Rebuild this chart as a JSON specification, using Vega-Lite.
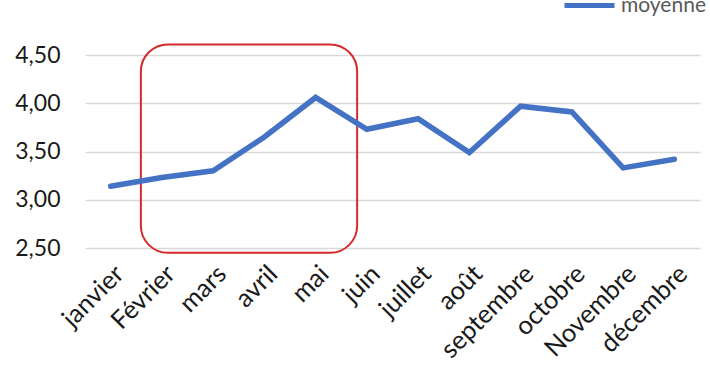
{
  "$schema": "https://vega.github.io/schema/vega-lite/v6.json",
  "autosize": "none",
  "width": 615,
  "height": 193,
  "padding": {"left": 85, "top": 55, "right": 10, "bottom": 121},
  "background": "white",
  "config": {
    "view": {"stroke": null},
    "font": "Lato"
  },
  "layer": [
    {
      "data": {"values": [{"x1": 1.59, "x2": 5.81, "y1": 4.61, "y2": 2.45}]},
      "mark": {"type": "rect", "fill": null, "stroke": "#d42a2a", "strokeWidth": 2, "cornerRadius": 27, "clip": false},
      "encoding": {
        "x": {"field": "x1", "type": "quantitative"},
        "x2": {"field": "x2"},
        "y": {"field": "y1", "type": "quantitative"},
        "y2": {"field": "y2"}
      }
    },
    {
      "data": {"values": [
        {"idx": 1, "mois": "janvier", "valeur": 3.14, "serie": "moyenne"},
        {"idx": 2, "mois": "Février", "valeur": 3.23, "serie": "moyenne"},
        {"idx": 3, "mois": "mars", "valeur": 3.30, "serie": "moyenne"},
        {"idx": 4, "mois": "avril", "valeur": 3.65, "serie": "moyenne"},
        {"idx": 5, "mois": "mai", "valeur": 4.06, "serie": "moyenne"},
        {"idx": 6, "mois": "juin", "valeur": 3.73, "serie": "moyenne"},
        {"idx": 7, "mois": "juillet", "valeur": 3.84, "serie": "moyenne"},
        {"idx": 8, "mois": "août", "valeur": 3.49, "serie": "moyenne"},
        {"idx": 9, "mois": "septembre", "valeur": 3.97, "serie": "moyenne"},
        {"idx": 10, "mois": "octobre", "valeur": 3.91, "serie": "moyenne"},
        {"idx": 11, "mois": "Novembre", "valeur": 3.33, "serie": "moyenne"},
        {"idx": 12, "mois": "décembre", "valeur": 3.42, "serie": "moyenne"}
      ]},
      "mark": {"type": "line", "strokeWidth": 5.5, "strokeJoin": "miter", "strokeCap": "round"},
      "encoding": {
        "x": {"field": "idx", "type": "quantitative"},
        "y": {"field": "valeur", "type": "quantitative"},
        "color": {
          "field": "serie", "type": "nominal",
          "scale": {"range": ["#4472C4"]},
          "legend": {
            "title": null, "orient": "none", "legendX": 477, "legendY": -77,
            "symbolType": "stroke", "symbolSize": 2500, "symbolStrokeWidth": 5,
            "labelFontSize": 21, "labelColor": "#595959", "labelOffset": 4, "labelFont": "Lato"
          }
        }
      }
    }
  ],
  "encoding": {
    "x": {
      "type": "quantitative",
      "scale": {"domain": [0.5, 12.5], "nice": false, "zero": false},
      "axis": {
        "title": null, "values": [1,2,3,4,5,6,7,8,9,10,11,12],
        "labelExpr": "['janvier','Février','mars','avril','mai','juin','juillet','août','septembre','octobre','Novembre','décembre'][datum.value - 1]",
        "grid": false, "ticks": false, "domain": false, "labelOverlap": false,
        "labelAngle": -45, "labelAlign": "right", "labelBaseline": "top",
        "labelFontSize": 25.5, "labelColor": "#1a1a1a", "labelPadding": 13, "labelFont": "Lato"
      }
    },
    "y": {
      "type": "quantitative",
      "scale": {"domain": [2.5, 4.5], "nice": false, "zero": false},
      "axis": {
        "title": null, "values": [2.5, 3, 3.5, 4, 4.5],
        "labelExpr": "replace(format(datum.value, '.2f'), '.', ',')",
        "grid": true, "gridColor": "#d9d9d9", "gridWidth": 1.5,
        "ticks": false, "domain": false,
        "labelFontSize": 23, "labelColor": "#1a1a1a", "labelPadding": 25, "labelFont": "Lato"
      }
    }
  }
}
